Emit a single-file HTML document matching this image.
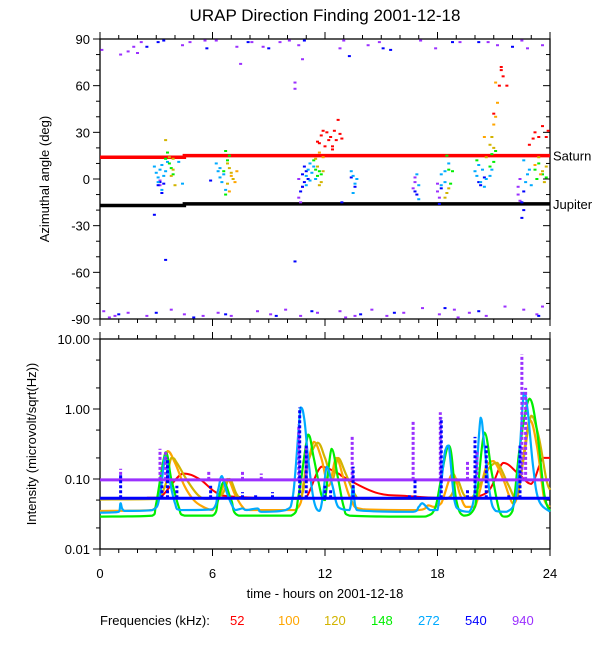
<!DOCTYPE html>
<html><head><meta charset="utf-8">
<style>
body{margin:0;background:#fff;}
svg{display:block;font-family:"Liberation Sans",sans-serif;}
</style></head>
<body>
<svg id="chart" width="600" height="650" viewBox="0 0 600 650" xmlns="http://www.w3.org/2000/svg">
<text x="325" y="21" text-anchor="middle" font-size="17">URAP Direction Finding  2001-12-18</text>
<text transform="translate(49,179) rotate(-90)" text-anchor="middle" font-size="13">Azimuthal angle (deg)</text>
<text transform="translate(36,444) rotate(-90)" text-anchor="middle" font-size="13">Intensity (microvolt/sqrt(Hz))</text>
<text x="325" y="598" text-anchor="middle" font-size="13">time - hours on 2001-12-18</text>
<g id="legend" font-size="13">
<text x="100" y="625">Frequencies (kHz):</text>
<text x="230" y="625" fill="#ff0000">52</text>
<text x="278" y="625" fill="#ffa500">100</text>
<text x="324" y="625" fill="#d2b400">120</text>
<text x="371" y="625" fill="#00ee00">148</text>
<text x="418" y="625" fill="#00aaff">272</text>
<text x="465" y="625" fill="#0000ff">540</text>
<text x="512" y="625" fill="#9b30ff">940</text>
</g>
</svg>
<script>
// ---- data ----
const xTicks = [0,6,12,18,24];
const angTicks = [90,60,30,0,-30,-60,-90];
const intTicks = [10,1,0.1,0.01];
const intTickLabels = ["10.00","1.00","0.10","0.01"];
const freqNames = ["52","100","120","148","272","540","940"];
const freqColors = ["#ff0000","#ffa500","#d2b400","#00ee00","#00aaff","#0000ff","#9b30ff"];

const saturnLine = [[0,14],[4.5,14],[4.5,15],[24,15]];
const jupiterLine = [[0,-17],[4.5,-17],[4.5,-16],[24,-16]];

const dfPurple = [[0.1,83],[1.1,80],[1.5,82],[2.0,81],[1.8,85],[2.2,88],[4.4,86],[4.8,88],[5.6,89],[6.2,89],[7.3,85],[8.1,88],[8.7,85],[9.6,88],[10.1,89],[10.6,86],[10.8,77],[13.0,89],[14.3,86],[14.9,88],[17.9,84],[19.2,88],[21.2,86],[22.8,84],[23.6,86],[10.4,62],[10.4,58],[7.5,74],[12.8,84],[17.1,89],[20.7,88],[22.5,89],
 [0.2,-85],[0.8,-88],[1.5,-86],[2.5,-88],[3.8,-84],[4.5,-87],[5.5,-88],[6.3,-86],[7.0,-88],[8.4,-85],[9.1,-87],[9.9,-84],[10.7,-88],[11.6,-86],[12.8,-85],[13.6,-88],[14.5,-84],[15.3,-88],[16.2,-86],[17.2,-83],[18.1,-87],[18.9,-84],[19.7,-86],[20.6,-88],[21.6,-82],[22.6,-84],[23.3,-87],[23.6,-82],[0.5,-89],[13.1,-89],[19.1,-89],
 [3.2,-1],[3.2,-4],[10.6,-12],[10.7,-15],[10.8,-5],[10.6,0],[16.8,-2],[16.7,-6],[16.8,1],[18.0,-8],[18.1,-12],[18.0,-3],[22.3,-5],[22.3,-10],[22.4,-14],[22.4,0]];
const dfBlue = [[2.5,85],[3.1,88],[3.4,89],[5.7,84],[7.9,88],[9.0,84],[10.9,89],[13.3,79],[15.1,84],[15.5,83],[18.8,88],[20.2,88],[22.0,85],
 [1.0,-87],[3.0,-86],[5.0,-89],[6.7,-87],[9.4,-88],[11.3,-85],[13.9,-87],[15.7,-86],[18.4,-83],[20.2,-85],[23.4,-88],[10.4,-53],[3.5,-52],[2.9,-23],
 [3.2,-2],[3.3,-9],[3.4,-3],[3.1,-4],[5.9,-1],[10.8,3],[10.9,-2],[11.0,5],[10.7,-8],[11.1,0],[10.9,8],[10.8,-5],[13.4,1],[12.9,-15],[13.6,-5],[16.8,-8],[16.9,-10],[18.1,-16],[18.2,-6],[20.2,-2],[20.3,-4],[20.5,1],[22.5,-15],[22.6,-20],[22.5,-25],[22.6,-8]];
const dfCyan = [[2.9,8],[3.0,4],[3.1,-2],[3.2,6],[3.3,9],[3.4,2],[3.3,-7],[3.5,5],[3.1,1],[3.6,11],[4.4,-3],[4.2,11],
 [6.2,10],[6.3,5],[6.4,1],[6.5,-2],[6.6,3],[6.4,7],[6.7,-7],
 [11.0,2],[11.1,6],[11.2,-1],[11.3,4],[11.4,8],[11.2,10],[11.5,0],[11.0,-4],[13.4,5],[13.5,2],[13.6,-3],[13.5,-9],[13.7,0],
 [16.9,3],[17.0,-4],[17.0,-13],[18.2,3],[18.4,5],[18.4,-2],[18.6,10],[18.2,-4],
 [20.0,5],[20.1,2],[20.3,-2],[20.4,6],[20.6,0],[20.2,9],[20.5,-5],[20.8,2],[20.9,6],[22.7,-2],[22.8,3],[22.9,6],[23.0,-4],[22.6,12]];
const dfGreen = [[3.6,17],[3.7,10],[3.8,7],[3.5,13],[3.9,3],[6.7,18],[6.8,12],[6.6,5],[6.9,15],[6.7,-10],[11.5,6],[11.7,5],[11.4,12],[11.6,2],[11.8,3],
 [18.6,6],[18.8,5],[18.5,15],[18.7,-3],[20.1,12],[20.8,8],[20.9,16],[21.0,11],[21.1,18],[23.2,6],[23.4,10],[23.6,3],[23.3,0],[23.8,1]];
const dfYellow = [[3.7,14],[3.9,6],[3.8,2],[3.5,25],[4.0,-4],[3.9,13],[6.8,-3],[6.9,7],[7.0,4],[7.1,0],[6.8,10],[11.6,8],[11.8,-2],[11.5,13],[11.9,5],[11.7,-4],
 [18.5,-9],[18.6,-6],[18.4,-12],[20.6,14],[20.8,22],[20.9,27],[21.0,20],[23.4,14],[23.6,5],[23.8,8],[23.7,-2]];
const dfOrange = [[7.2,-2],[7.0,2],[6.9,-8],[7.3,5],[11.7,17],[11.9,14],[20.5,27],[21.0,35],[21.1,40],[21.2,49],[21.1,62],[23.5,3],[23.2,9]];
const dfRed = [[11.6,24],[11.8,28],[11.9,31],[12.1,30],[12.3,27],[12.2,25],[12.5,31],[12.6,25],[12.0,21],[12.4,19],[12.7,38],[12.9,26],[11.7,23],[12.4,21],[12.8,29],
 [21.0,42],[21.3,60],[21.4,70],[21.5,66],[21.7,60],[21.4,72],[22.9,22],[23.1,26],[23.4,27],[23.6,34],[23.8,27],[23.2,30],[23.9,31]];

const int52 = [[2.5,0.054],[3.2,0.054],[4.4,0.12],[5.3,0.1],[6.2,0.064],[7.1,0.056],[10.3,0.052],[11.0,0.055],[11.8,0.15],[12.7,0.12],[12.9,0.11],[14.7,0.064],[16.4,0.057],[18.9,0.053],[20.6,0.063],[21.5,0.17],[22.3,0.12],[23.0,0.085],[23.6,0.2],[24,0.2]];
const int100 = [[0,0.035],[2.8,0.036],[3.1,0.06],[3.6,0.25],[4.0,0.17],[4.5,0.08],[5.0,0.05],[5.5,0.04],[6.0,0.036],[6.4,0.06],[6.8,0.1],[7.2,0.06],[7.6,0.04],[8.0,0.036],[10.4,0.036],[10.9,0.1],[11.4,0.34],[11.8,0.2],[12.2,0.08],[12.6,0.2],[13.0,0.1],[13.4,0.05],[14.0,0.037],[17.0,0.036],[17.5,0.042],[17.8,0.04],[18.2,0.045],[18.8,0.12],[19.2,0.06],[19.5,0.04],[20.0,0.04],[20.6,0.15],[21.0,0.18],[21.5,0.1],[22.0,0.045],[22.3,0.06],[22.9,0.7],[23.3,0.3],[23.7,0.05],[24,0.04]];
const int120 = [[0,0.051],[3.0,0.052],[3.8,0.2],[4.1,0.17],[4.6,0.1],[5.2,0.06],[5.7,0.052],[6.5,0.06],[6.9,0.1],[7.3,0.06],[7.7,0.052],[10.6,0.052],[11.0,0.15],[11.6,0.33],[12.0,0.2],[12.4,0.1],[12.7,0.2],[13.1,0.12],[13.6,0.06],[14.0,0.052],[18.5,0.052],[19.0,0.1],[19.4,0.06],[19.8,0.052],[20.8,0.15],[21.2,0.17],[21.8,0.08],[22.2,0.052],[22.6,0.2],[23.0,0.8],[23.4,0.4],[23.8,0.1],[24,0.07]];
const int148 = [[0,0.029],[2.8,0.03],[3.0,0.045],[3.5,0.24],[3.8,0.1],[4.2,0.04],[4.5,0.03],[6.0,0.03],[6.3,0.05],[6.6,0.09],[7.0,0.05],[7.4,0.03],[10.2,0.03],[10.6,0.06],[11.1,0.43],[11.4,0.2],[11.8,0.06],[12.0,0.05],[12.35,0.27],[12.7,0.1],[13.0,0.04],[13.3,0.03],[17.0,0.029],[17.5,0.03],[17.9,0.04],[18.6,0.3],[19.0,0.05],[19.4,0.03],[20.0,0.04],[20.5,0.46],[20.9,0.12],[21.3,0.035],[21.6,0.029],[22.0,0.035],[22.4,0.3],[22.9,1.4],[23.3,0.5],[23.7,0.06],[24,0.035]];
const int272 = [[0,0.033],[1.0,0.034],[1.1,0.045],[1.3,0.035],[2.8,0.036],[3.2,0.06],[3.47,0.21],[3.7,0.1],[4.0,0.045],[4.3,0.036],[6.0,0.037],[6.3,0.07],[6.5,0.11],[6.8,0.06],[7.2,0.036],[7.6,0.038],[7.8,0.036],[8.4,0.038],[8.6,0.034],[9.9,0.036],[10.3,0.06],[10.7,1.05],[10.9,0.7],[11.1,0.2],[11.4,0.05],[11.7,0.035],[11.9,0.06],[12.1,0.15],[12.4,0.08],[12.7,0.04],[13.3,0.036],[13.5,0.08],[13.7,0.036],[16.7,0.034],[17.0,0.04],[17.2,0.045],[17.6,0.036],[18.0,0.036],[18.4,0.25],[18.6,0.3],[18.9,0.05],[19.2,0.036],[19.7,0.034],[20.0,0.07],[20.3,0.75],[20.5,0.3],[20.8,0.06],[21.1,0.035],[21.7,0.034],[22.2,0.06],[22.6,1.7],[22.8,1.0],[23.1,0.15],[23.4,0.05],[24,0.034]];
const int540 = [[0,0.053],[24,0.053]];
const spikes540 = [[1.1,0.12],[3.3,0.09],[3.6,0.2],[4.1,0.08],[5.9,0.08],[7.6,0.065],[8.3,0.06],[9.2,0.065],[10.65,1.05],[11.0,0.3],[12.0,0.08],[12.3,0.07],[13.5,0.15],[16.5,0.06],[16.8,0.1],[18.2,0.75],[19.6,0.07],[20.0,0.4],[20.6,0.3],[21.8,0.06],[22.4,0.3]];
const int940 = [[0,0.097],[24,0.097]];
const spikes940 = [[1.1,0.14],[3.2,0.27],[3.5,0.25],[5.8,0.13],[7.6,0.13],[8.6,0.12],[10.6,0.6],[11.0,0.3],[13.45,0.4],[16.7,0.7],[18.15,0.9],[19.6,0.18],[20.1,0.25],[22.5,6.0],[22.7,2.0]];

// ---- axes ----
const X0=100, X1=550, TT=39, TB=319, BT=339, BB=549;
const xs = t => X0 + t*(X1-X0)/24;
const ya = a => (TT+TB)/2 - a*(TB-TT)/180;
const yi = v => BB - (Math.log10(v)+2)*(BB-BT)/3;

const svg = document.getElementById('chart');
const NS='http://www.w3.org/2000/svg';
function mk(tag, attrs, parent){const e=document.createElementNS(NS,tag);for(const k in attrs)e.setAttribute(k,attrs[k]);(parent||svg).appendChild(e);return e;}
function line(x1,y1,x2,y2,g,w){return mk('line',{x1,y1,x2,y2,stroke:'#000','stroke-width':w||1},g);}

[[TT,TB,'top'],[BT,BB,'bottom']].forEach(([t,b,nm])=>{
  const g = mk('g',{});
  
  
  mk('rect',{x:X0,y:t,width:X1-X0,height:b-t,fill:'none',stroke:'#000','stroke-width':1.3},g);
  for(let h=0;h<=24;h++){
    const L = h%6===0?7:4; const x=xs(h);
    line(x,t,x,t-L,g); line(x,b,x,b+L,g);
  }
});
const gty = mk('g',{});


for(let a=-90;a<=90;a+=10){
  const L = a%30===0?7:4; const y=ya(a);
  line(X0,y,X0-L,y,gty); line(X1,y,X1-L,y,gty);
}
angTicks.forEach(a=>{
  const t=mk('text',{x:X0-10,y:ya(a)+5,'text-anchor':'end','font-size':13},gty);
  t.textContent=String(a);
  
  
});
const gby = mk('g',{});


for(let d=-2;d<=1;d++){
  [1,2,5].forEach(m=>{
    const v=m*Math.pow(10,d); if(v>10.0001) return;
    const L=m===1?7:4; const y=yi(v);
    line(X0,y,X0-L,y,gby); line(X1,y,X1-L,y,gby);
  });
}
intTicks.forEach((v,i)=>{
  const t=mk('text',{x:X0-10,y:yi(v)+5,'text-anchor':'end','font-size':13},gby);
  t.textContent=intTickLabels[i];
  
  
});
xTicks.forEach(h=>{
  const t=mk('text',{x:xs(h),y:578,'text-anchor':'middle','font-size':13});
  t.textContent=String(h);
  
  
});

function refLine(pts,color,name,label,ly){
  const p=mk('polyline',{points:pts.map(q=>xs(q[0])+','+ya(q[1])).join(' '),fill:'none',stroke:color,'stroke-width':3.5});
  
  
  const t=mk('text',{x:553,y:ya(pts[pts.length-1][1])+ly,'font-size':13});
  t.textContent=label;
  
  
}
refLine(saturnLine,'#ff0000','saturn-line','Saturn',5);
refLine(jupiterLine,'#000000','jupiter-line','Jupiter',5);

function scatter(arr,color,name){
  const g=mk('g',{fill:color});
  
  
  arr.forEach(p=>{
    const r=mk('rect',{x:xs(p[0])-1.5,y:ya(p[1])-1,width:3,height:2},g);
    
    
  });
}
scatter(dfPurple,'#9b30ff','df-940');
scatter(dfBlue,'#0000ff','df-540');
scatter(dfCyan,'#00aaff','df-272');
scatter(dfGreen,'#00ee00','df-148');
scatter(dfYellow,'#d2b400','df-120');
scatter(dfOrange,'#ffa500','df-100');
scatter(dfRed,'#ff0000','df-52');

// smooth monotone-ish path (Catmull-Rom with clamped y)
function smoothPath(P){
  let d='M'+P[0][0]+','+P[0][1];
  for(let i=0;i<P.length-1;i++){
    const p0=P[Math.max(0,i-1)],p1=P[i],p2=P[i+1],p3=P[Math.min(P.length-1,i+2)];
    const k=0.18;
    let c1x=p1[0]+(p2[0]-p0[0])*k, c1y=p1[1]+(p2[1]-p0[1])*k;
    let c2x=p2[0]-(p3[0]-p1[0])*k, c2y=p2[1]-(p3[1]-p1[1])*k;
    const lo=Math.min(p1[1],p2[1]),hi=Math.max(p1[1],p2[1]);
    c1y=Math.min(hi,Math.max(lo,c1y)); c2y=Math.min(hi,Math.max(lo,c2y));
    c1x=Math.min(p2[0],Math.max(p1[0],c1x)); c2x=Math.min(p2[0],Math.max(p1[0],c2x));
    d+=' C'+c1x+','+c1y+' '+c2x+','+c2y+' '+p2[0]+','+p2[1];
  }
  return d;
}
function series(arr,color,name,w){
  const P=arr.map(q=>[xs(q[0]),yi(q[1])]);
  const p=mk('path',{d:smoothPath(P),fill:'none',stroke:color,'stroke-width':w||2.2,'stroke-linejoin':'round'});
  
  
}
function spikes(arr,base,color,name){
  const g=mk('g',{stroke:color,'stroke-width':3,'stroke-dasharray':'3,2'});
  
  
  arr.forEach(s=>{
    const l=mk('line',{x1:xs(s[0]),y1:yi(base),x2:xs(s[0]),y2:yi(s[1])},g);
    
    
  });
}
series(int52,'#ff0000','intensity-52',2);
series(int100,'#ffa500','intensity-100');
series(int120,'#d2b400','intensity-120');
series(int148,'#00ee00','intensity-148');
series(int272,'#00aaff','intensity-272');
series(int940,'#9b30ff','intensity-940',3);
spikes(spikes940,0.097,'#9b30ff','intensity-940-spikes');
series(int540,'#0000ff','intensity-540',3);
spikes(spikes540,0.053,'#0000ff','intensity-540-spikes');
</script>
</body></html>
